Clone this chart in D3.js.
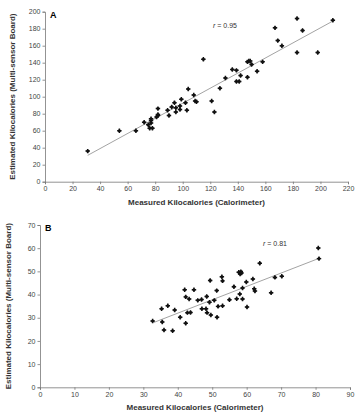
<!DOCTYPE html>
<html><head><meta charset="utf-8">
<script src="https://cdn.jsdelivr.net/npm/d3@7"></script>
<style>body{margin:0;background:#fff}svg{display:block}</style>
</head><body>
<script>
const xTicksA = [0,20,40,60,80,100,120,140,160,180,200,220];
const yTicksA = [0,20,40,60,80,100,120,140,160,180,200];
const xTicksB = [0,10,20,30,40,50,60,70,80,90];
const yTicksB = [0,10,20,30,40,50,60,70];
const measuredA = [31,54,66,72,75,76,77,77,77,78,81,82,82,82,89,90,92,94,95,95,98,98,99,102,103,104,108,109,110,115,121,123,127,131,136,139,139,141,142,147,147,148,149,150,154,158,167,169,172,183,183,187,198,209];
const estimatedA = [36,60,60,70,67,63,69,72,74,63,76,78,79,86,84,78,88,93,87,82,89,85,97,93,84,109,102,95,94,144,95,82,110,122,132,131,118,118,125,123,141,142,142,138,130,141,181,166,160,192,152,178,152,190];
const fitA = [[31,31],[209,189]];
const measuredB = [32.7,35.3,35.5,36.0,37.1,38.5,39.1,40.7,42.0,42.3,42.3,42.8,43.3,43.7,44.7,45.8,46.9,47.0,48.2,48.4,48.5,49.2,49.4,49.6,50.6,51.3,51.4,51.7,52.8,53.0,53.0,55.0,56.3,57.1,57.7,58.0,58.1,58.3,58.5,58.8,58.8,59.9,60.1,61.8,62.2,62.4,63.8,67.1,68.2,70.2,80.8,81.0];
const estimatedB = [28.6,33.9,28.2,24.7,35.2,24.4,33.3,30.2,42.1,39.0,27.6,32.2,38.1,32.3,42.1,37.5,37.9,33.9,33.9,39.2,32.2,36.7,46.1,31.2,37.5,41.7,30.2,34.9,47.7,45.9,35.2,37.8,43.4,38.2,49.6,40.2,48.9,49.9,49.3,42.8,38.1,45.4,34.6,46.7,42.5,41.5,53.5,40.8,47.4,47.9,60.1,55.5];
const fitB = [[33.1,28.0],[80.8,55.5]];

const svg = d3.select("body").append("svg").attr("width",357).attr("height",418);
const FONT = "Liberation Sans, Arial, sans-serif";

function panel(cfg){
  const g = svg.append("g");
  const x = d3.scaleLinear().domain(cfg.xd).range(cfg.xr);
  const y = d3.scaleLinear().domain(cfg.yd).range(cfg.yr);
  const xa = g.append("g").attr("transform",`translate(0,${cfg.yr[0]})`)
    .call(d3.axisBottom(x).tickValues(cfg.xt).tickSize(2.5).tickPadding(2));
  const ya = g.append("g").attr("transform",`translate(${cfg.xr[0]},0)`)
    .call(d3.axisLeft(y).tickValues(cfg.yt).tickSize(2.5).tickPadding(2));
  [xa,ya].forEach(a=>{
    a.selectAll("path,line").attr("stroke","#777").attr("stroke-width",0.8);
    a.selectAll("text").attr("font-family",FONT).attr("font-size",7).attr("fill","#444");
  });
  g.append("line").attr("x1",x(cfg.fit[0][0])).attr("y1",y(cfg.fit[0][1]))
    .attr("x2",x(cfg.fit[1][0])).attr("y2",y(cfg.fit[1][1]))
    .attr("stroke","#999").attr("stroke-width",0.9);
  const pts = g.selectAll("g.pt").data(cfg.mx).join("g").attr("class","pt")
    .attr("transform",(d,i)=>`translate(${x(d)},${y(cfg.my[i])})`);
  pts.append("path").attr("d",d3.symbol(d3.symbolCross,11)).attr("fill","#111");
  pts.append("circle").attr("r",1.55).attr("fill","#111");
  g.append("text").attr("x",cfg.xr[0]+5).attr("y",cfg.yr[1]+6)
    .attr("font-family",FONT).attr("font-weight","bold").attr("font-size",9).text(cfg.letter);
  const rt = g.append("text").attr("x",cfg.rpos[0]).attr("y",cfg.rpos[1])
    .attr("font-family",FONT).attr("font-size",7).attr("fill","#333");
  rt.append("tspan").attr("font-style","italic").text("r");
  rt.append("tspan").text(" = "+cfg.r);
  g.append("text").attr("x",(cfg.xr[0]+cfg.xr[1])/2).attr("y",cfg.xtitleY).attr("text-anchor","middle")
    .attr("font-family",FONT).attr("font-weight","bold").attr("font-size",8).attr("fill","#333")
    .text("Measured Kilocalories (Calorimeter)");
  g.append("text").attr("transform",`translate(${cfg.ytitleX},${(cfg.yr[0]+cfg.yr[1])/2}) rotate(-90)`).attr("text-anchor","middle")
    .attr("font-family",FONT).attr("font-weight","bold").attr("font-size",8).attr("fill","#333")
    .text("Estimated Kilocalories (Multi-sensor Board)");
}

panel({xd:[0,220],xr:[45,348],yd:[0,200],yr:[181.7,11.7],xt:xTicksA,yt:yTicksA,
  mx:measuredA,my:estimatedA,fit:fitA,letter:"A",r:"0.95",rpos:[213,28],xtitleY:205,ytitleX:15});
panel({xd:[0,90],xr:[40,350],yd:[0,70],yr:[387.3,225],xt:xTicksB,yt:yTicksB,
  mx:measuredB,my:estimatedB,fit:fitB,letter:"B",r:"0.81",rpos:[263,246],xtitleY:410,ytitleX:11});
</script>
</body></html>
